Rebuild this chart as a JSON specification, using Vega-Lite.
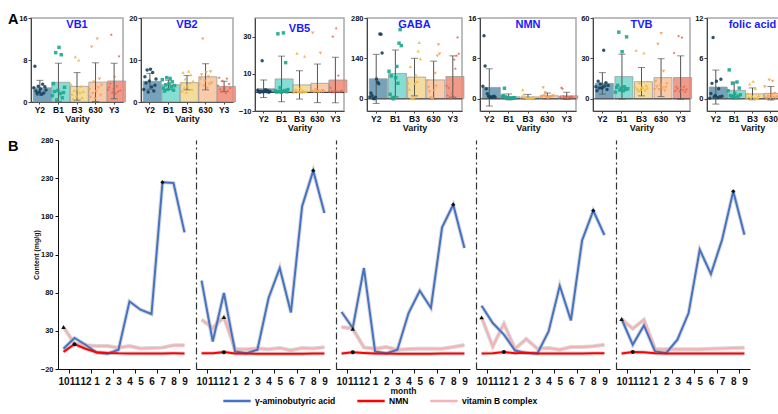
{
  "$schema": "https://vega.github.io/schema/vega-lite/v6.json",
  "background": "white",
  "padding": {"left": 7, "top": 12, "right": 4, "bottom": 0},
  "title": {"text": ["A", "B"], "orient": "left", "anchor": "end", "frame": "bounds", "angle": 0, "align": "right", "baseline": "top", "lineHeight": 127, "offset": -11, "fontSize": 14.5, "color": "#000"},
  "config": {
    "font": "Liberation Sans",
    "view": {"stroke": "#a8a8a8", "strokeWidth": 1.5},
    "axis": {"labelFont": "Liberation Sans", "titleFont": "Liberation Sans", "labelFontWeight": "bold", "titleFontWeight": "bold", "labelColor": "#111", "titleColor": "#111", "domainColor": "#444", "tickColor": "#444", "grid": false, "minExtent": 0},
    "axisY": {"labelFontSize": 7.5, "tickSize": 3, "labelPadding": 1, "minExtent": 0},
    "axisX": {"labelFontSize": 8.5, "labelAngle": 0, "tickSize": 2, "labelPadding": 1, "titleFontSize": 9, "titlePadding": 1, "minExtent": 0},
    "title": {"font": "Liberation Sans", "fontWeight": "bold"},
    "legend": {"labelFont": "Liberation Sans"}
  },
  "datasets": {
    "panels": [{"v": "Y2"}, {"v": "B1"}, {"v": "B3"}, {"v": "630"}, {"v": "Y3"}],
    "lines": [
      {"v": "Y2", "m": "10", "γ-aminobutyric acid": 6.6, "NMN": 2.5, "vitamin B complex": 35, "mk": "vitamin B complex"},
      {"v": "Y2", "m": "11", "γ-aminobutyric acid": 20.6, "NMN": 12.5, "vitamin B complex": 13, "mk": "NMN"},
      {"v": "Y2", "m": "12", "γ-aminobutyric acid": 11.8, "NMN": 6.5, "vitamin B complex": 11},
      {"v": "Y2", "m": "1", "γ-aminobutyric acid": 1.5, "NMN": 2.0, "vitamin B complex": 10},
      {"v": "Y2", "m": "2", "γ-aminobutyric acid": 0, "NMN": 1.0, "vitamin B complex": 10},
      {"v": "Y2", "m": "3", "γ-aminobutyric acid": 5.3, "NMN": 0.5, "vitamin B complex": 8},
      {"v": "Y2", "m": "4", "γ-aminobutyric acid": 68.6, "NMN": 0.4, "vitamin B complex": 10},
      {"v": "Y2", "m": "5", "γ-aminobutyric acid": 57.7, "NMN": 0.3, "vitamin B complex": 7},
      {"v": "Y2", "m": "6", "γ-aminobutyric acid": 52, "NMN": 0.3, "vitamin B complex": 7.5},
      {"v": "Y2", "m": "7", "γ-aminobutyric acid": 224.5, "NMN": 0.4, "vitamin B complex": 8, "mk": "γ-aminobutyric acid"},
      {"v": "Y2", "m": "8", "γ-aminobutyric acid": 223.6, "NMN": 0.5, "vitamin B complex": 11},
      {"v": "Y2", "m": "9", "γ-aminobutyric acid": 159, "NMN": 0.3, "vitamin B complex": 11},
      {"v": "B1", "m": "10", "γ-aminobutyric acid": 95.7, "NMN": 0.5, "vitamin B complex": 44.6},
      {"v": "B1", "m": "11", "γ-aminobutyric acid": 16, "NMN": 0.7, "vitamin B complex": 33.7},
      {"v": "B1", "m": "12", "γ-aminobutyric acid": 79.6, "NMN": 2.1, "vitamin B complex": 48, "mk": "NMN|vitamin B complex"},
      {"v": "B1", "m": "1", "γ-aminobutyric acid": 3, "NMN": 0.4, "vitamin B complex": 6},
      {"v": "B1", "m": "2", "γ-aminobutyric acid": 0.5, "NMN": 0.2, "vitamin B complex": 6},
      {"v": "B1", "m": "3", "γ-aminobutyric acid": 5.3, "NMN": 0.1, "vitamin B complex": 7},
      {"v": "B1", "m": "4", "γ-aminobutyric acid": 73, "NMN": 0.1, "vitamin B complex": 6},
      {"v": "B1", "m": "5", "γ-aminobutyric acid": 112.3, "NMN": 0.1, "vitamin B complex": 7.5},
      {"v": "B1", "m": "6", "γ-aminobutyric acid": 54, "NMN": 0.1, "vitamin B complex": 4.5},
      {"v": "B1", "m": "7", "γ-aminobutyric acid": 193, "NMN": 0.1, "vitamin B complex": 7.5},
      {"v": "B1", "m": "8", "γ-aminobutyric acid": 239.8, "NMN": 0.2, "vitamin B complex": 7, "mk": "γ-aminobutyric acid"},
      {"v": "B1", "m": "9", "γ-aminobutyric acid": 184.4, "NMN": 0.2, "vitamin B complex": 8.5},
      {"v": "B3", "m": "10", "γ-aminobutyric acid": 54.7, "NMN": 0.4, "vitamin B complex": 35},
      {"v": "B3", "m": "11", "γ-aminobutyric acid": 33.7, "NMN": 1.8, "vitamin B complex": 32.8, "mk": "NMN|vitamin B complex"},
      {"v": "B3", "m": "12", "γ-aminobutyric acid": 112.3, "NMN": 0.9, "vitamin B complex": 8.3},
      {"v": "B3", "m": "1", "γ-aminobutyric acid": 3, "NMN": 0.3, "vitamin B complex": 6.6},
      {"v": "B3", "m": "2", "γ-aminobutyric acid": 0.5, "NMN": 0.2, "vitamin B complex": 8.8},
      {"v": "B3", "m": "3", "γ-aminobutyric acid": 5.3, "NMN": 0.1, "vitamin B complex": 5.3},
      {"v": "B3", "m": "4", "γ-aminobutyric acid": 53.3, "NMN": 0.1, "vitamin B complex": 6.2},
      {"v": "B3", "m": "5", "γ-aminobutyric acid": 82.6, "NMN": 0.1, "vitamin B complex": 6.6},
      {"v": "B3", "m": "6", "γ-aminobutyric acid": 60, "NMN": 0.1, "vitamin B complex": 6.6},
      {"v": "B3", "m": "7", "γ-aminobutyric acid": 165.5, "NMN": 0.2, "vitamin B complex": 6.6},
      {"v": "B3", "m": "8", "γ-aminobutyric acid": 195.2, "NMN": 0.2, "vitamin B complex": 8.8, "mk": "γ-aminobutyric acid"},
      {"v": "B3", "m": "9", "γ-aminobutyric acid": 138.5, "NMN": 0.3, "vitamin B complex": 11.4},
      {"v": "630", "m": "10", "γ-aminobutyric acid": 62.9, "NMN": 0.3, "vitamin B complex": 47.6, "mk": "vitamin B complex"},
      {"v": "630", "m": "11", "γ-aminobutyric acid": 40.2, "NMN": 0.5, "vitamin B complex": 9.6},
      {"v": "630", "m": "12", "γ-aminobutyric acid": 25, "NMN": 2.2, "vitamin B complex": 39.3, "mk": "NMN"},
      {"v": "630", "m": "1", "γ-aminobutyric acid": 4.2, "NMN": 0.6, "vitamin B complex": 6.6},
      {"v": "630", "m": "2", "γ-aminobutyric acid": 1.1, "NMN": 1.2, "vitamin B complex": 19.3},
      {"v": "630", "m": "3", "γ-aminobutyric acid": 0.5, "NMN": 0.3, "vitamin B complex": 6.6},
      {"v": "630", "m": "4", "γ-aminobutyric acid": 29.3, "NMN": 0.2, "vitamin B complex": 7.5},
      {"v": "630", "m": "5", "γ-aminobutyric acid": 89, "NMN": 0.2, "vitamin B complex": 5.3},
      {"v": "630", "m": "6", "γ-aminobutyric acid": 43.7, "NMN": 0.3, "vitamin B complex": 8.8},
      {"v": "630", "m": "7", "γ-aminobutyric acid": 148.5, "NMN": 0.4, "vitamin B complex": 8.8},
      {"v": "630", "m": "8", "γ-aminobutyric acid": 187.4, "NMN": 0.5, "vitamin B complex": 9.7, "mk": "γ-aminobutyric acid"},
      {"v": "630", "m": "9", "γ-aminobutyric acid": 155.5, "NMN": 0.6, "vitamin B complex": 11.8},
      {"v": "Y3", "m": "10", "γ-aminobutyric acid": 45.5, "NMN": 0.3, "vitamin B complex": 45.5, "mk": "vitamin B complex"},
      {"v": "Y3", "m": "11", "γ-aminobutyric acid": 11.8, "NMN": 2.2, "vitamin B complex": 32.8, "mk": "NMN"},
      {"v": "Y3", "m": "12", "γ-aminobutyric acid": 37.1, "NMN": 2.0, "vitamin B complex": 44.6},
      {"v": "Y3", "m": "1", "γ-aminobutyric acid": 3, "NMN": 0.5, "vitamin B complex": 6.2},
      {"v": "Y3", "m": "2", "γ-aminobutyric acid": 1, "NMN": 0.3, "vitamin B complex": 6},
      {"v": "Y3", "m": "3", "γ-aminobutyric acid": 18.4, "NMN": 0.2, "vitamin B complex": 6},
      {"v": "Y3", "m": "4", "γ-aminobutyric acid": 53.3, "NMN": 0.2, "vitamin B complex": 6},
      {"v": "Y3", "m": "5", "γ-aminobutyric acid": 136.3, "NMN": 0.2, "vitamin B complex": 6},
      {"v": "Y3", "m": "6", "γ-aminobutyric acid": 104.4, "NMN": 0.3, "vitamin B complex": 6.5},
      {"v": "Y3", "m": "7", "γ-aminobutyric acid": 149.4, "NMN": 0.3, "vitamin B complex": 7},
      {"v": "Y3", "m": "8", "γ-aminobutyric acid": 212.7, "NMN": 0.4, "vitamin B complex": 7.5, "mk": "γ-aminobutyric acid"},
      {"v": "Y3", "m": "9", "γ-aminobutyric acid": 155.9, "NMN": 0.3, "vitamin B complex": 8}
    ],
    "vb": [
      {"v": "Y2", "m": "10", "VB1": 2.7, "VB2": 3.0, "VB5": 1.2, "TVB": 9, "folic acid": 0.1},
      {"v": "Y2", "m": "11", "VB1": 6.8, "VB2": 6.0, "VB5": 0.3, "TVB": 6, "folic acid": 0.8},
      {"v": "Y2", "m": "12", "VB1": 2.1, "VB2": 4.5, "VB5": 0.1, "TVB": 13, "folic acid": 2.3},
      {"v": "Y2", "m": "1", "VB1": 1.6, "VB2": 7.6, "VB5": 0.6, "TVB": 8, "folic acid": 9.1},
      {"v": "Y2", "m": "2", "VB1": 3.0, "VB2": 2.4, "VB5": 17, "TVB": 11, "folic acid": 0.3},
      {"v": "Y2", "m": "3", "VB1": 1.9, "VB2": 5.0, "VB5": 0.2, "TVB": 8, "folic acid": 0.5},
      {"v": "Y2", "m": "4", "VB1": 2.5, "VB2": 7.8, "VB5": 0.8, "TVB": 8.5, "folic acid": 2.6},
      {"v": "Y2", "m": "5", "VB1": 1.5, "VB2": 3.6, "VB5": 1.5, "TVB": 36, "folic acid": 0.2},
      {"v": "Y2", "m": "6", "VB1": 3.4, "VB2": 7.0, "VB5": 0.4, "TVB": 9.5, "folic acid": 1.5},
      {"v": "Y2", "m": "7", "VB1": 1.7, "VB2": 2.6, "VB5": 1.0, "TVB": 12, "folic acid": 0.3},
      {"v": "Y2", "m": "8", "VB1": 2.9, "VB2": 4.0, "VB5": 0.1, "TVB": 7, "folic acid": 2.9},
      {"v": "Y2", "m": "9", "VB1": 2.3, "VB2": 5.5, "VB5": 0.5, "TVB": 10, "folic acid": 0.4},
      {"v": "B1", "m": "10", "VB1": 1.2, "VB2": 5.3, "VB5": 0.8, "TVB": 5, "folic acid": 1.2},
      {"v": "B1", "m": "11", "VB1": 3.5, "VB2": 3.3, "VB5": 0.2, "TVB": 8.5, "folic acid": 4.3},
      {"v": "B1", "m": "12", "VB1": 2.0, "VB2": 2.6, "VB5": 31.5, "TVB": 10, "folic acid": 0.5},
      {"v": "B1", "m": "1", "VB1": 9.4, "VB2": 4.1, "VB5": 0.4, "TVB": 49.5, "folic acid": 0.3},
      {"v": "B1", "m": "2", "VB1": 0.4, "VB2": 5.8, "VB5": 2.5, "TVB": 6.5, "folic acid": 2.3},
      {"v": "B1", "m": "3", "VB1": 2.2, "VB2": 3.0, "VB5": 0.1, "TVB": 8, "folic acid": 0.4},
      {"v": "B1", "m": "4", "VB1": 10.4, "VB2": 4.4, "VB5": 0.5, "TVB": 35, "folic acid": 0.8},
      {"v": "B1", "m": "5", "VB1": 1.6, "VB2": 5.6, "VB5": 32, "TVB": 6, "folic acid": 0.2},
      {"v": "B1", "m": "6", "VB1": 9.0, "VB2": 3.6, "VB5": 1.0, "TVB": 9, "folic acid": 2.5},
      {"v": "B1", "m": "7", "VB1": 0.8, "VB2": 4.8, "VB5": 16, "TVB": 7, "folic acid": 0.4},
      {"v": "B1", "m": "8", "VB1": 1.8, "VB2": 2.8, "VB5": 0.3, "TVB": 46, "folic acid": 1.6},
      {"v": "B1", "m": "9", "VB1": 2.8, "VB2": 3.9, "VB5": 1.5, "TVB": 7.5, "folic acid": 0.6},
      {"v": "B3", "m": "10", "VB1": 3.4, "VB2": 4.2, "VB5": 0.1, "TVB": 9, "folic acid": 0.1},
      {"v": "B3", "m": "11", "VB1": 1.5, "VB2": 2.6, "VB5": 0.8, "TVB": 36, "folic acid": 0.8},
      {"v": "B3", "m": "12", "VB1": 0.6, "VB2": 7.0, "VB5": 1.5, "TVB": 7.5, "folic acid": 0.3},
      {"v": "B3", "m": "1", "VB1": 2.2, "VB2": 3.4, "VB5": 21, "TVB": 6, "folic acid": 2.2},
      {"v": "B3", "m": "2", "VB1": 8.6, "VB2": 5.5, "VB5": 0.3, "TVB": 12, "folic acid": 0.1},
      {"v": "B3", "m": "3", "VB1": 1.2, "VB2": 2.3, "VB5": 0.6, "TVB": 7, "folic acid": 0.4},
      {"v": "B3", "m": "4", "VB1": 2.6, "VB2": 3.8, "VB5": 2.5, "TVB": 8.5, "folic acid": 2.6},
      {"v": "B3", "m": "5", "VB1": 8.0, "VB2": 7.3, "VB5": 0.2, "TVB": 8.5, "folic acid": 0.1},
      {"v": "B3", "m": "6", "VB1": 1.8, "VB2": 4.6, "VB5": 1.0, "TVB": 34, "folic acid": 1.5},
      {"v": "B3", "m": "7", "VB1": 3.0, "VB2": 6.5, "VB5": 0.4, "TVB": 6.5, "folic acid": 0.1},
      {"v": "B3", "m": "8", "VB1": 0.8, "VB2": 3.0, "VB5": 19.5, "TVB": 10, "folic acid": 0.2},
      {"v": "B3", "m": "9", "VB1": 2.0, "VB2": 5.0, "VB5": 0.5, "TVB": 8, "folic acid": 0.5},
      {"v": "630", "m": "10", "VB1": 2.4, "VB2": 4.0, "VB5": 0.8, "TVB": 7, "folic acid": 1.8},
      {"v": "630", "m": "11", "VB1": 0.9, "VB2": 5.5, "VB5": 32, "TVB": 13, "folic acid": 0.1},
      {"v": "630", "m": "12", "VB1": 10.5, "VB2": 6.5, "VB5": 0.4, "TVB": 9, "folic acid": 0.1},
      {"v": "630", "m": "1", "VB1": 1.6, "VB2": 15.0, "VB5": 0.2, "TVB": 40.5, "folic acid": 0.4},
      {"v": "630", "m": "2", "VB1": 3.8, "VB2": 3.8, "VB5": 1.5, "TVB": 7, "folic acid": 2.8},
      {"v": "630", "m": "3", "VB1": 0.6, "VB2": 5.0, "VB5": 0.3, "TVB": 10, "folic acid": 0.1},
      {"v": "630", "m": "4", "VB1": 2.0, "VB2": 7.0, "VB5": 0.6, "TVB": 48.5, "folic acid": 0.5},
      {"v": "630", "m": "5", "VB1": 12.0, "VB2": 3.3, "VB5": 0.1, "TVB": 8, "folic acid": 2.6},
      {"v": "630", "m": "6", "VB1": 2.7, "VB2": 6.0, "VB5": 21, "TVB": 20.5, "folic acid": 0.2},
      {"v": "630", "m": "7", "VB1": 4.4, "VB2": 4.2, "VB5": 0.2, "TVB": 6, "folic acid": 0.8},
      {"v": "630", "m": "8", "VB1": 1.3, "VB2": 7.2, "VB5": 1.0, "TVB": 8.5, "folic acid": 0.1},
      {"v": "630", "m": "9", "VB1": 3.2, "VB2": 4.5, "VB5": 0.5, "TVB": 11, "folic acid": 0.3},
      {"v": "Y3", "m": "10", "VB1": 2.3, "VB2": 3.9, "VB5": 0.3, "TVB": 34, "folic acid": 0.4},
      {"v": "Y3", "m": "11", "VB1": 2.8, "VB2": 5.8, "VB5": 2.5, "TVB": 6, "folic acid": 0.1},
      {"v": "Y3", "m": "12", "VB1": 3.5, "VB2": 3.0, "VB5": 0.6, "TVB": 9, "folic acid": 2.2},
      {"v": "Y3", "m": "1", "VB1": 12.8, "VB2": 2.4, "VB5": 30, "TVB": 7.5, "folic acid": 0.2},
      {"v": "Y3", "m": "2", "VB1": 1.8, "VB2": 5.0, "VB5": 0.1, "TVB": 46.5, "folic acid": 1.2},
      {"v": "Y3", "m": "3", "VB1": 2.5, "VB2": 2.8, "VB5": 0.8, "TVB": 5.5, "folic acid": 0.1},
      {"v": "Y3", "m": "4", "VB1": 4.8, "VB2": 3.6, "VB5": 34.5, "TVB": 8, "folic acid": 0.3},
      {"v": "Y3", "m": "5", "VB1": 1.6, "VB2": 2.1, "VB5": 0.4, "TVB": 45.5, "folic acid": 3.4},
      {"v": "Y3", "m": "6", "VB1": 3.0, "VB2": 5.6, "VB5": 9, "TVB": 6.5, "folic acid": 0.6},
      {"v": "Y3", "m": "7", "VB1": 2.0, "VB2": 2.6, "VB5": 0.2, "TVB": 9, "folic acid": 1.9},
      {"v": "Y3", "m": "8", "VB1": 8.7, "VB2": 4.3, "VB5": 0.5, "TVB": 5, "folic acid": 0.2},
      {"v": "Y3", "m": "9", "VB1": 2.2, "VB2": 3.3, "VB5": 1.0, "TVB": 7, "folic acid": 0.8}
    ]
  },
  "resolve": {"scale": {"color": "independent", "fill": "independent", "shape": "independent"}},
  "columns": 1,
  "align": "none",
  "spacing": 2,
  "concat": [
    {
      "spacing": 0,
      "hconcat": [
        {
          "width": 92, "height": 84,
          "data": {"name": "vb"},
          "title": {"text": "VB1", "offset": -16, "color": "#1a1aff", "fontSize": 11},
          "encoding": {"x": {"field": "v", "type": "nominal", "sort": ["Y2", "B1", "B3", "630", "Y3"], "title": "Varity", "scale": {"domain": ["Y2", "B1", "B3", "630", "Y3"], "paddingInner": 0.28, "paddingOuter": 0.12}}},
          "layer": [
            {"mark": {"type": "bar", "stroke": "#8c8c8c", "strokeWidth": 0.8, "opacity": 0.85},
             "encoding": {"y": {"aggregate": "mean", "field": "VB1", "type": "quantitative", "title": null, "scale": {"domain": [0, 16], "nice": false}, "axis": {"values": [0, 4, 8, 12, 16]}},
                          "color": {"field": "v", "type": "nominal", "scale": {"domain": ["Y2", "B1", "B3", "630", "Y3"], "range": ["#5f93b0", "#72d8cc", "#f3d58e", "#f9c39b", "#ee8a76"]}, "legend": null}}},
            {"mark": {"type": "errorbar", "extent": "stdev", "color": "#555", "thickness": 1, "ticks": {"size": 7, "thickness": 1, "color": "#555"}},
             "encoding": {"y": {"field": "VB1", "type": "quantitative", "title": null}}},
            {"mark": {"type": "point", "filled": true, "size": 12, "opacity": 0.9},
             "encoding": {"y": {"field": "VB1", "type": "quantitative", "title": null},
                          "xOffset": {"field": "m", "type": "nominal", "sort": ["10", "11", "12", "1", "2", "3", "4", "5", "6", "7", "8", "9"]},
                          "fill": {"field": "v", "type": "nominal", "scale": {"domain": ["Y2", "B1", "B3", "630", "Y3"], "range": ["#17435c", "#1ea68e", "#eebb45", "#f5a25a", "#e8624c"]}, "legend": null},
                          "shape": {"field": "v", "type": "nominal", "scale": {"domain": ["Y2", "B1", "B3", "630", "Y3"], "range": ["circle", "square", "triangle-up", "triangle-down", "M0,-1L0.24,-0.33L0.95,-0.31L0.39,0.12L0.59,0.81L0,0.4L-0.59,0.81L-0.39,0.12L-0.95,-0.31L-0.24,-0.33Z"]}, "legend": null}}}
          ]
        },
        {
          "width": 92, "height": 84,
          "data": {"name": "vb"},
          "title": {"text": "VB2", "offset": -16, "color": "#1a1aff", "fontSize": 11},
          "encoding": {"x": {"field": "v", "type": "nominal", "sort": ["Y2", "B1", "B3", "630", "Y3"], "title": "Varity", "scale": {"domain": ["Y2", "B1", "B3", "630", "Y3"], "paddingInner": 0.28, "paddingOuter": 0.12}}},
          "layer": [
            {"mark": {"type": "bar", "stroke": "#8c8c8c", "strokeWidth": 0.8, "opacity": 0.85},
             "encoding": {"y": {"aggregate": "mean", "field": "VB2", "type": "quantitative", "title": null, "scale": {"domain": [0, 20], "nice": false}, "axis": {"values": [0, 5, 10, 15, 20]}},
                          "color": {"field": "v", "type": "nominal", "scale": {"domain": ["Y2", "B1", "B3", "630", "Y3"], "range": ["#5f93b0", "#72d8cc", "#f3d58e", "#f9c39b", "#ee8a76"]}, "legend": null}}},
            {"mark": {"type": "errorbar", "extent": "stdev", "color": "#555", "thickness": 1, "ticks": {"size": 7, "thickness": 1, "color": "#555"}},
             "encoding": {"y": {"field": "VB2", "type": "quantitative", "title": null}}},
            {"mark": {"type": "point", "filled": true, "size": 12, "opacity": 0.9},
             "encoding": {"y": {"field": "VB2", "type": "quantitative", "title": null},
                          "xOffset": {"field": "m", "type": "nominal", "sort": ["10", "11", "12", "1", "2", "3", "4", "5", "6", "7", "8", "9"]},
                          "fill": {"field": "v", "type": "nominal", "scale": {"domain": ["Y2", "B1", "B3", "630", "Y3"], "range": ["#17435c", "#1ea68e", "#eebb45", "#f5a25a", "#e8624c"]}, "legend": null},
                          "shape": {"field": "v", "type": "nominal", "scale": {"domain": ["Y2", "B1", "B3", "630", "Y3"], "range": ["circle", "square", "triangle-up", "triangle-down", "M0,-1L0.24,-0.33L0.95,-0.31L0.39,0.12L0.59,0.81L0,0.4L-0.59,0.81L-0.39,0.12L-0.95,-0.31L-0.24,-0.33Z"]}, "legend": null}}}
          ]
        },
        {
          "width": 89, "height": 93,
          "data": {"name": "vb"},
          "title": {"text": "VB5", "offset": -16, "color": "#1a1aff", "fontSize": 11},
          "encoding": {"x": {"field": "v", "type": "nominal", "sort": ["Y2", "B1", "B3", "630", "Y3"], "title": "Varity", "scale": {"domain": ["Y2", "B1", "B3", "630", "Y3"], "paddingInner": 0.28, "paddingOuter": 0.12}}},
          "layer": [
            {"mark": {"type": "bar", "stroke": "#8c8c8c", "strokeWidth": 0.8, "opacity": 0.85},
             "encoding": {"y": {"aggregate": "mean", "field": "VB5", "type": "quantitative", "title": null, "scale": {"domain": [-10, 40], "nice": false}, "axis": {"values": [-10, 0, 10, 20, 30, 40]}},
                          "color": {"field": "v", "type": "nominal", "scale": {"domain": ["Y2", "B1", "B3", "630", "Y3"], "range": ["#5f93b0", "#72d8cc", "#f3d58e", "#f9c39b", "#ee8a76"]}, "legend": null}}},
            {"data": {"values": [{}]}, "mark": {"type": "rule", "color": "#333", "strokeWidth": 1}, "encoding": {"x": null, "y": {"datum": 0}}},
            {"mark": {"type": "errorbar", "extent": "stdev", "color": "#555", "thickness": 1, "ticks": {"size": 7, "thickness": 1, "color": "#555"}},
             "encoding": {"y": {"field": "VB5", "type": "quantitative", "title": null}}},
            {"mark": {"type": "point", "filled": true, "size": 12, "opacity": 0.9},
             "encoding": {"y": {"field": "VB5", "type": "quantitative", "title": null},
                          "xOffset": {"field": "m", "type": "nominal", "sort": ["10", "11", "12", "1", "2", "3", "4", "5", "6", "7", "8", "9"]},
                          "fill": {"field": "v", "type": "nominal", "scale": {"domain": ["Y2", "B1", "B3", "630", "Y3"], "range": ["#17435c", "#1ea68e", "#eebb45", "#f5a25a", "#e8624c"]}, "legend": null},
                          "shape": {"field": "v", "type": "nominal", "scale": {"domain": ["Y2", "B1", "B3", "630", "Y3"], "range": ["circle", "square", "triangle-up", "triangle-down", "M0,-1L0.24,-0.33L0.95,-0.31L0.39,0.12L0.59,0.81L0,0.4L-0.59,0.81L-0.39,0.12L-0.95,-0.31L-0.24,-0.33Z"]}, "legend": null}}}
          ]
        },
        {
          "width": 95, "height": 93,
          "data": {"name": "lines"},
          "title": {"text": "GABA", "offset": -16, "color": "#1a1aff", "fontSize": 11},
          "encoding": {"x": {"field": "v", "type": "nominal", "sort": ["Y2", "B1", "B3", "630", "Y3"], "title": "Varity", "scale": {"domain": ["Y2", "B1", "B3", "630", "Y3"], "paddingInner": 0.28, "paddingOuter": 0.12}}},
          "layer": [
            {"mark": {"type": "bar", "stroke": "#8c8c8c", "strokeWidth": 0.8, "opacity": 0.85},
             "encoding": {"y": {"aggregate": "mean", "field": "γ-aminobutyric acid", "type": "quantitative", "title": null, "scale": {"domain": [-42, 280], "nice": false}, "axis": {"values": [0, 70, 140, 210, 280]}},
                          "color": {"field": "v", "type": "nominal", "scale": {"domain": ["Y2", "B1", "B3", "630", "Y3"], "range": ["#5f93b0", "#72d8cc", "#f3d58e", "#f9c39b", "#ee8a76"]}, "legend": null}}},
            {"data": {"values": [{}]}, "mark": {"type": "rule", "color": "#333", "strokeWidth": 1}, "encoding": {"x": null, "y": {"datum": 0}}},
            {"mark": {"type": "errorbar", "extent": "stdev", "color": "#555", "thickness": 1, "ticks": {"size": 7, "thickness": 1, "color": "#555"}},
             "encoding": {"y": {"field": "γ-aminobutyric acid", "type": "quantitative", "title": null}}},
            {"mark": {"type": "point", "filled": true, "size": 12, "opacity": 0.9},
             "encoding": {"y": {"field": "γ-aminobutyric acid", "type": "quantitative", "title": null},
                          "xOffset": {"field": "m", "type": "nominal", "sort": ["10", "11", "12", "1", "2", "3", "4", "5", "6", "7", "8", "9"]},
                          "fill": {"field": "v", "type": "nominal", "scale": {"domain": ["Y2", "B1", "B3", "630", "Y3"], "range": ["#17435c", "#1ea68e", "#eebb45", "#f5a25a", "#e8624c"]}, "legend": null},
                          "shape": {"field": "v", "type": "nominal", "scale": {"domain": ["Y2", "B1", "B3", "630", "Y3"], "range": ["circle", "square", "triangle-up", "triangle-down", "M0,-1L0.24,-0.33L0.95,-0.31L0.39,0.12L0.59,0.81L0,0.4L-0.59,0.81L-0.39,0.12L-0.95,-0.31L-0.24,-0.33Z"]}, "legend": null}}}
          ]
        },
        {
          "width": 96, "height": 93,
          "data": {"name": "lines"},
          "title": {"text": "NMN", "offset": -16, "color": "#1a1aff", "fontSize": 11},
          "encoding": {"x": {"field": "v", "type": "nominal", "sort": ["Y2", "B1", "B3", "630", "Y3"], "title": "Varity", "scale": {"domain": ["Y2", "B1", "B3", "630", "Y3"], "paddingInner": 0.28, "paddingOuter": 0.12}}},
          "layer": [
            {"mark": {"type": "bar", "stroke": "#8c8c8c", "strokeWidth": 0.8, "opacity": 0.85},
             "encoding": {"y": {"aggregate": "mean", "field": "NMN", "type": "quantitative", "title": null, "scale": {"domain": [-2.4, 16], "nice": false}, "axis": {"values": [0, 4, 8, 12, 16]}},
                          "color": {"field": "v", "type": "nominal", "scale": {"domain": ["Y2", "B1", "B3", "630", "Y3"], "range": ["#5f93b0", "#72d8cc", "#f3d58e", "#f9c39b", "#ee8a76"]}, "legend": null}}},
            {"data": {"values": [{}]}, "mark": {"type": "rule", "color": "#333", "strokeWidth": 1}, "encoding": {"x": null, "y": {"datum": 0}}},
            {"mark": {"type": "errorbar", "extent": "stdev", "color": "#555", "thickness": 1, "ticks": {"size": 7, "thickness": 1, "color": "#555"}},
             "encoding": {"y": {"field": "NMN", "type": "quantitative", "title": null}}},
            {"mark": {"type": "point", "filled": true, "size": 12, "opacity": 0.9},
             "encoding": {"y": {"field": "NMN", "type": "quantitative", "title": null},
                          "xOffset": {"field": "m", "type": "nominal", "sort": ["10", "11", "12", "1", "2", "3", "4", "5", "6", "7", "8", "9"]},
                          "fill": {"field": "v", "type": "nominal", "scale": {"domain": ["Y2", "B1", "B3", "630", "Y3"], "range": ["#17435c", "#1ea68e", "#eebb45", "#f5a25a", "#e8624c"]}, "legend": null},
                          "shape": {"field": "v", "type": "nominal", "scale": {"domain": ["Y2", "B1", "B3", "630", "Y3"], "range": ["circle", "square", "triangle-up", "triangle-down", "M0,-1L0.24,-0.33L0.95,-0.31L0.39,0.12L0.59,0.81L0,0.4L-0.59,0.81L-0.39,0.12L-0.95,-0.31L-0.24,-0.33Z"]}, "legend": null}}}
          ]
        },
        {
          "width": 97, "height": 93,
          "data": {"name": "vb"},
          "title": {"text": "TVB", "offset": -16, "color": "#1a1aff", "fontSize": 11},
          "encoding": {"x": {"field": "v", "type": "nominal", "sort": ["Y2", "B1", "B3", "630", "Y3"], "title": "Varity", "scale": {"domain": ["Y2", "B1", "B3", "630", "Y3"], "paddingInner": 0.28, "paddingOuter": 0.12}}},
          "layer": [
            {"mark": {"type": "bar", "stroke": "#8c8c8c", "strokeWidth": 0.8, "opacity": 0.85},
             "encoding": {"y": {"aggregate": "mean", "field": "TVB", "type": "quantitative", "title": null, "scale": {"domain": [-9, 60], "nice": false}, "axis": {"values": [0, 15, 30, 45, 60]}},
                          "color": {"field": "v", "type": "nominal", "scale": {"domain": ["Y2", "B1", "B3", "630", "Y3"], "range": ["#5f93b0", "#72d8cc", "#f3d58e", "#f9c39b", "#ee8a76"]}, "legend": null}}},
            {"data": {"values": [{}]}, "mark": {"type": "rule", "color": "#333", "strokeWidth": 1}, "encoding": {"x": null, "y": {"datum": 0}}},
            {"mark": {"type": "errorbar", "extent": "stdev", "color": "#555", "thickness": 1, "ticks": {"size": 7, "thickness": 1, "color": "#555"}},
             "encoding": {"y": {"field": "TVB", "type": "quantitative", "title": null}}},
            {"mark": {"type": "point", "filled": true, "size": 12, "opacity": 0.9},
             "encoding": {"y": {"field": "TVB", "type": "quantitative", "title": null},
                          "xOffset": {"field": "m", "type": "nominal", "sort": ["10", "11", "12", "1", "2", "3", "4", "5", "6", "7", "8", "9"]},
                          "fill": {"field": "v", "type": "nominal", "scale": {"domain": ["Y2", "B1", "B3", "630", "Y3"], "range": ["#17435c", "#1ea68e", "#eebb45", "#f5a25a", "#e8624c"]}, "legend": null},
                          "shape": {"field": "v", "type": "nominal", "scale": {"domain": ["Y2", "B1", "B3", "630", "Y3"], "range": ["circle", "square", "triangle-up", "triangle-down", "M0,-1L0.24,-0.33L0.95,-0.31L0.39,0.12L0.59,0.81L0,0.4L-0.59,0.81L-0.39,0.12L-0.95,-0.31L-0.24,-0.33Z"]}, "legend": null}}}
          ]
        },
        {
          "width": 91, "height": 93,
          "data": {"name": "vb"},
          "title": {"text": "folic acid", "offset": -16, "color": "#1a1aff", "fontSize": 11},
          "encoding": {"x": {"field": "v", "type": "nominal", "sort": ["Y2", "B1", "B3", "630", "Y3"], "title": "Varity", "scale": {"domain": ["Y2", "B1", "B3", "630", "Y3"], "paddingInner": 0.28, "paddingOuter": 0.12}}},
          "layer": [
            {"mark": {"type": "bar", "stroke": "#8c8c8c", "strokeWidth": 0.8, "opacity": 0.85},
             "encoding": {"y": {"aggregate": "mean", "field": "folic acid", "type": "quantitative", "title": null, "scale": {"domain": [-1.8, 12], "nice": false}, "axis": {"values": [0, 3, 6, 9, 12]}},
                          "color": {"field": "v", "type": "nominal", "scale": {"domain": ["Y2", "B1", "B3", "630", "Y3"], "range": ["#5f93b0", "#72d8cc", "#f3d58e", "#f9c39b", "#ee8a76"]}, "legend": null}}},
            {"data": {"values": [{}]}, "mark": {"type": "rule", "color": "#333", "strokeWidth": 1}, "encoding": {"x": null, "y": {"datum": 0}}},
            {"mark": {"type": "errorbar", "extent": "stdev", "color": "#555", "thickness": 1, "ticks": {"size": 7, "thickness": 1, "color": "#555"}},
             "encoding": {"y": {"field": "folic acid", "type": "quantitative", "title": null}}},
            {"mark": {"type": "point", "filled": true, "size": 12, "opacity": 0.9},
             "encoding": {"y": {"field": "folic acid", "type": "quantitative", "title": null},
                          "xOffset": {"field": "m", "type": "nominal", "sort": ["10", "11", "12", "1", "2", "3", "4", "5", "6", "7", "8", "9"]},
                          "fill": {"field": "v", "type": "nominal", "scale": {"domain": ["Y2", "B1", "B3", "630", "Y3"], "range": ["#17435c", "#1ea68e", "#eebb45", "#f5a25a", "#e8624c"]}, "legend": null},
                          "shape": {"field": "v", "type": "nominal", "scale": {"domain": ["Y2", "B1", "B3", "630", "Y3"], "range": ["circle", "square", "triangle-up", "triangle-down", "M0,-1L0.24,-0.33L0.95,-0.31L0.39,0.12L0.59,0.81L0,0.4L-0.59,0.81L-0.39,0.12L-0.95,-0.31L-0.24,-0.33Z"]}, "legend": null}}}
          ]
        }
      ]
    },
    {
      "spacing": 0,
      "hconcat": [
        {
          "width": 1, "height": 229, "view": {"stroke": null},
          "data": {"values": []},
          "mark": "point"
        },
        {
          "width": 132, "height": 229, "view": {"stroke": null},
          "encoding": {
            "x": {"field": "m", "type": "ordinal", "title": null, "scale": {"type": "band", "domain": ["10", "11", "12", "1", "2", "3", "4", "5", "6", "7", "8", "9"], "paddingInner": 0, "paddingOuter": 0},
                  "axis": {"labelFontSize": 10, "labelPadding": 3, "tickSize": 4, "tickBand": "extent", "labelOverlap": false, "domainColor": "#111", "tickColor": "#111", "tickOpacity": {"condition": {"test": "indexof(['10','12','2','4','6','8'], datum.value) >= 0", "value": 1}, "value": 0}}},
            "y": {"field": "content", "type": "quantitative", "title": "Content (mg/g)", "scale": {"domain": [-20, 280], "nice": false, "zero": false},
                  "axis": {"values": [-20, 30, 80, 130, 180, 230, 280], "labelFontSize": 7.5, "tickSize": 3, "labelPadding": 2, "titleFontSize": 7, "titlePadding": 1, "domainColor": "#111", "tickColor": "#111"}}
          },
          "layer": [
            {"data": {"name": "panels"}, "transform": [{"filter": "datum.v === 'Y2'"}], "mark": {"type": "rect", "color": "#dde8f3"},
             "encoding": {"x": {"datum": "1", "bandPosition": 0.2}, "x2": {"datum": "5", "bandPosition": 0.8}, "y": {"datum": 250}, "y2": {"datum": 275}}},
            {"data": {"name": "panels"}, "transform": [{"filter": "datum.v === 'Y2'"}], "mark": {"type": "text", "fontWeight": "bold", "fontSize": 10, "color": "#111"},
             "encoding": {"x": {"datum": "3", "bandPosition": 0.5}, "y": {"datum": 262.5}, "text": {"field": "v"}}},
            {"data": {"name": "lines"},
             "transform": [{"filter": "datum.v === 'Y2'"}, {"fold": ["vitamin B complex", "γ-aminobutyric acid", "NMN"], "as": ["series", "content"]}],
             "layer": [
               {"mark": {"type": "line", "strokeWidth": 4, "color": "#808080", "opacity": 0.3}, "encoding": {"x": {"field": "m", "type": "ordinal", "bandPosition": 0.5}, "detail": {"field": "series"}}},
               {"mark": {"type": "line", "strokeWidth": 2}, "encoding": {"x": {"field": "m", "type": "ordinal", "bandPosition": 0.5},
                 "color": {"field": "series", "type": "nominal", "scale": {"domain": ["γ-aminobutyric acid", "NMN", "vitamin B complex"], "range": ["#4472c4", "#ff0000", "#f5b1b3"]},
                           "legend": {"orient": "none", "legendX": 191, "legendY": 246, "direction": "horizontal", "title": null, "symbolType": "stroke", "symbolStrokeWidth": 2.5, "symbolSize": 750, "labelFontSize": 8.5, "labelFontWeight": "bold", "labelOffset": 3, "columnPadding": 16}}}},
               {"transform": [{"filter": "datum.series === 'γ-aminobutyric acid' && indexof(datum.mk || '', datum.series) >= 0"}], "mark": {"type": "point", "shape": "diamond", "filled": true, "color": "#111", "size": 18, "opacity": 1},
                "encoding": {"x": {"field": "m", "type": "ordinal", "bandPosition": 0.5}}},
               {"transform": [{"filter": "datum.series === 'NMN' && indexof(datum.mk || '', datum.series) >= 0"}], "mark": {"type": "point", "shape": "circle", "filled": true, "color": "#111", "size": 16, "opacity": 1},
                "encoding": {"x": {"field": "m", "type": "ordinal", "bandPosition": 0.5}}},
               {"transform": [{"filter": "datum.series === 'vitamin B complex' && indexof(datum.mk || '', datum.series) >= 0"}], "mark": {"type": "point", "shape": "triangle-up", "filled": true, "color": "#111", "size": 20, "opacity": 1},
                "encoding": {"x": {"field": "m", "type": "ordinal", "bandPosition": 0.5}}}
             ]}
          ]
        },
        {
          "width": 134, "height": 229, "view": {"stroke": null},
          "encoding": {
            "x": {"field": "m", "type": "ordinal", "title": null, "scale": {"type": "band", "domain": ["10", "11", "12", "1", "2", "3", "4", "5", "6", "7", "8", "9"], "paddingInner": 0, "paddingOuter": 0},
                  "axis": {"labelFontSize": 10, "labelPadding": 3, "tickSize": 4, "tickBand": "extent", "labelOverlap": false, "domainColor": "#111", "tickColor": "#111", "tickOpacity": {"condition": {"test": "indexof(['10','12','2','4','6','8'], datum.value) >= 0", "value": 1}, "value": 0}}},
            "y": {"field": "content", "type": "quantitative", "title": null, "scale": {"domain": [-20, 280], "nice": false, "zero": false},
                  "axis": {"labels": false, "ticks": false, "domainDash": [7, 3, 2, 3], "domainColor": "#333", "domainWidth": 1.2}}
          },
          "layer": [
            {"data": {"name": "panels"}, "transform": [{"filter": "datum.v === 'B1'"}], "mark": {"type": "rect", "color": "#dde8f3"},
             "encoding": {"x": {"datum": "1", "bandPosition": 0.2}, "x2": {"datum": "5", "bandPosition": 0.8}, "y": {"datum": 250}, "y2": {"datum": 275}}},
            {"data": {"name": "panels"}, "transform": [{"filter": "datum.v === 'B1'"}], "mark": {"type": "text", "fontWeight": "bold", "fontSize": 10, "color": "#111"},
             "encoding": {"x": {"datum": "3", "bandPosition": 0.5}, "y": {"datum": 262.5}, "text": {"field": "v"}}},
            {"data": {"name": "lines"},
             "transform": [{"filter": "datum.v === 'B1'"}, {"fold": ["vitamin B complex", "γ-aminobutyric acid", "NMN"], "as": ["series", "content"]}],
             "layer": [
               {"mark": {"type": "line", "strokeWidth": 4, "color": "#808080", "opacity": 0.3}, "encoding": {"x": {"field": "m", "type": "ordinal", "bandPosition": 0.5}, "detail": {"field": "series"}}},
               {"mark": {"type": "line", "strokeWidth": 2}, "encoding": {"x": {"field": "m", "type": "ordinal", "bandPosition": 0.5},
                 "color": {"field": "series", "type": "nominal", "scale": {"domain": ["γ-aminobutyric acid", "NMN", "vitamin B complex"], "range": ["#4472c4", "#ff0000", "#f5b1b3"]}}}},
               {"transform": [{"filter": "datum.series === 'γ-aminobutyric acid' && indexof(datum.mk || '', datum.series) >= 0"}], "mark": {"type": "point", "shape": "diamond", "filled": true, "color": "#111", "size": 18, "opacity": 1},
                "encoding": {"x": {"field": "m", "type": "ordinal", "bandPosition": 0.5}}},
               {"transform": [{"filter": "datum.series === 'NMN' && indexof(datum.mk || '', datum.series) >= 0"}], "mark": {"type": "point", "shape": "circle", "filled": true, "color": "#111", "size": 16, "opacity": 1},
                "encoding": {"x": {"field": "m", "type": "ordinal", "bandPosition": 0.5}}},
               {"transform": [{"filter": "datum.series === 'vitamin B complex' && indexof(datum.mk || '', datum.series) >= 0"}], "mark": {"type": "point", "shape": "triangle-up", "filled": true, "color": "#111", "size": 20, "opacity": 1},
                "encoding": {"x": {"field": "m", "type": "ordinal", "bandPosition": 0.5}}}
             ]}
          ]
        },
        {
          "width": 134, "height": 229, "view": {"stroke": null},
          "encoding": {
            "x": {"field": "m", "type": "ordinal", "title": "month", "scale": {"type": "band", "domain": ["10", "11", "12", "1", "2", "3", "4", "5", "6", "7", "8", "9"], "paddingInner": 0, "paddingOuter": 0},
                  "axis": {"labelFontSize": 10, "labelPadding": 3, "tickSize": 4, "tickBand": "extent", "labelOverlap": false, "titleFontSize": 8.5, "titlePadding": 0, "domainColor": "#111", "tickColor": "#111", "tickOpacity": {"condition": {"test": "indexof(['10','12','2','4','6','8'], datum.value) >= 0", "value": 1}, "value": 0}}},
            "y": {"field": "content", "type": "quantitative", "title": null, "scale": {"domain": [-20, 280], "nice": false, "zero": false},
                  "axis": {"labels": false, "ticks": false, "domainDash": [7, 3, 2, 3], "domainColor": "#333", "domainWidth": 1.2}}
          },
          "layer": [
            {"data": {"name": "panels"}, "transform": [{"filter": "datum.v === 'B3'"}], "mark": {"type": "rect", "color": "#dde8f3"},
             "encoding": {"x": {"datum": "1", "bandPosition": 0.2}, "x2": {"datum": "5", "bandPosition": 0.8}, "y": {"datum": 250}, "y2": {"datum": 275}}},
            {"data": {"name": "panels"}, "transform": [{"filter": "datum.v === 'B3'"}], "mark": {"type": "text", "fontWeight": "bold", "fontSize": 10, "color": "#111"},
             "encoding": {"x": {"datum": "3", "bandPosition": 0.5}, "y": {"datum": 262.5}, "text": {"field": "v"}}},
            {"data": {"name": "lines"},
             "transform": [{"filter": "datum.v === 'B3'"}, {"fold": ["vitamin B complex", "γ-aminobutyric acid", "NMN"], "as": ["series", "content"]}],
             "layer": [
               {"mark": {"type": "line", "strokeWidth": 4, "color": "#808080", "opacity": 0.3}, "encoding": {"x": {"field": "m", "type": "ordinal", "bandPosition": 0.5}, "detail": {"field": "series"}}},
               {"mark": {"type": "line", "strokeWidth": 2}, "encoding": {"x": {"field": "m", "type": "ordinal", "bandPosition": 0.5},
                 "color": {"field": "series", "type": "nominal", "scale": {"domain": ["γ-aminobutyric acid", "NMN", "vitamin B complex"], "range": ["#4472c4", "#ff0000", "#f5b1b3"]}}}},
               {"transform": [{"filter": "datum.series === 'γ-aminobutyric acid' && indexof(datum.mk || '', datum.series) >= 0"}], "mark": {"type": "point", "shape": "diamond", "filled": true, "color": "#111", "size": 18, "opacity": 1},
                "encoding": {"x": {"field": "m", "type": "ordinal", "bandPosition": 0.5}}},
               {"transform": [{"filter": "datum.series === 'NMN' && indexof(datum.mk || '', datum.series) >= 0"}], "mark": {"type": "point", "shape": "circle", "filled": true, "color": "#111", "size": 16, "opacity": 1},
                "encoding": {"x": {"field": "m", "type": "ordinal", "bandPosition": 0.5}}},
               {"transform": [{"filter": "datum.series === 'vitamin B complex' && indexof(datum.mk || '', datum.series) >= 0"}], "mark": {"type": "point", "shape": "triangle-up", "filled": true, "color": "#111", "size": 20, "opacity": 1},
                "encoding": {"x": {"field": "m", "type": "ordinal", "bandPosition": 0.5}}}
             ]}
          ]
        },
        {
          "width": 134, "height": 229, "view": {"stroke": null},
          "encoding": {
            "x": {"field": "m", "type": "ordinal", "title": null, "scale": {"type": "band", "domain": ["10", "11", "12", "1", "2", "3", "4", "5", "6", "7", "8", "9"], "paddingInner": 0, "paddingOuter": 0},
                  "axis": {"labelFontSize": 10, "labelPadding": 3, "tickSize": 4, "tickBand": "extent", "labelOverlap": false, "domainColor": "#111", "tickColor": "#111", "tickOpacity": {"condition": {"test": "indexof(['10','12','2','4','6','8'], datum.value) >= 0", "value": 1}, "value": 0}}},
            "y": {"field": "content", "type": "quantitative", "title": null, "scale": {"domain": [-20, 280], "nice": false, "zero": false},
                  "axis": {"labels": false, "ticks": false, "domainDash": [7, 3, 2, 3], "domainColor": "#333", "domainWidth": 1.2}}
          },
          "layer": [
            {"data": {"name": "panels"}, "transform": [{"filter": "datum.v === '630'"}], "mark": {"type": "rect", "color": "#dde8f3"},
             "encoding": {"x": {"datum": "1", "bandPosition": 0.3}, "x2": {"datum": "5", "bandPosition": 0.9}, "y": {"datum": 250}, "y2": {"datum": 275}}},
            {"data": {"name": "panels"}, "transform": [{"filter": "datum.v === '630'"}], "mark": {"type": "text", "fontWeight": "bold", "fontSize": 10, "color": "#111"},
             "encoding": {"x": {"datum": "3", "bandPosition": 0.6}, "y": {"datum": 262.5}, "text": {"field": "v"}}},
            {"data": {"name": "lines"},
             "transform": [{"filter": "datum.v === '630'"}, {"fold": ["vitamin B complex", "γ-aminobutyric acid", "NMN"], "as": ["series", "content"]}],
             "layer": [
               {"mark": {"type": "line", "strokeWidth": 4, "color": "#808080", "opacity": 0.3}, "encoding": {"x": {"field": "m", "type": "ordinal", "bandPosition": 0.5}, "detail": {"field": "series"}}},
               {"mark": {"type": "line", "strokeWidth": 2}, "encoding": {"x": {"field": "m", "type": "ordinal", "bandPosition": 0.5},
                 "color": {"field": "series", "type": "nominal", "scale": {"domain": ["γ-aminobutyric acid", "NMN", "vitamin B complex"], "range": ["#4472c4", "#ff0000", "#f5b1b3"]}}}},
               {"transform": [{"filter": "datum.series === 'γ-aminobutyric acid' && indexof(datum.mk || '', datum.series) >= 0"}], "mark": {"type": "point", "shape": "diamond", "filled": true, "color": "#111", "size": 18, "opacity": 1},
                "encoding": {"x": {"field": "m", "type": "ordinal", "bandPosition": 0.5}}},
               {"transform": [{"filter": "datum.series === 'NMN' && indexof(datum.mk || '', datum.series) >= 0"}], "mark": {"type": "point", "shape": "circle", "filled": true, "color": "#111", "size": 16, "opacity": 1},
                "encoding": {"x": {"field": "m", "type": "ordinal", "bandPosition": 0.5}}},
               {"transform": [{"filter": "datum.series === 'vitamin B complex' && indexof(datum.mk || '', datum.series) >= 0"}], "mark": {"type": "point", "shape": "triangle-up", "filled": true, "color": "#111", "size": 20, "opacity": 1},
                "encoding": {"x": {"field": "m", "type": "ordinal", "bandPosition": 0.5}}}
             ]}
          ]
        },
        {
          "width": 134, "height": 229, "view": {"stroke": null},
          "encoding": {
            "x": {"field": "m", "type": "ordinal", "title": null, "scale": {"type": "band", "domain": ["10", "11", "12", "1", "2", "3", "4", "5", "6", "7", "8", "9"], "paddingInner": 0, "paddingOuter": 0},
                  "axis": {"labelFontSize": 10, "labelPadding": 3, "tickSize": 4, "tickBand": "extent", "labelOverlap": false, "domainColor": "#111", "tickColor": "#111", "tickOpacity": {"condition": {"test": "indexof(['10','12','2','4','6','8'], datum.value) >= 0", "value": 1}, "value": 0}}},
            "y": {"field": "content", "type": "quantitative", "title": null, "scale": {"domain": [-20, 280], "nice": false, "zero": false},
                  "axis": {"labels": false, "ticks": false, "domainDash": [7, 3, 2, 3], "domainColor": "#333", "domainWidth": 1.2}}
          },
          "layer": [
            {"data": {"name": "panels"}, "transform": [{"filter": "datum.v === 'Y3'"}], "mark": {"type": "rect", "color": "#dde8f3"},
             "encoding": {"x": {"datum": "1", "bandPosition": 0.4}, "x2": {"datum": "6", "bandPosition": 0.05}, "y": {"datum": 250}, "y2": {"datum": 275}}},
            {"data": {"name": "panels"}, "transform": [{"filter": "datum.v === 'Y3'"}], "mark": {"type": "text", "fontWeight": "bold", "fontSize": 10, "color": "#111"},
             "encoding": {"x": {"datum": "3", "bandPosition": 0.7}, "y": {"datum": 262.5}, "text": {"field": "v"}}},
            {"data": {"name": "lines"},
             "transform": [{"filter": "datum.v === 'Y3'"}, {"fold": ["vitamin B complex", "γ-aminobutyric acid", "NMN"], "as": ["series", "content"]}],
             "layer": [
               {"mark": {"type": "line", "strokeWidth": 4, "color": "#808080", "opacity": 0.3}, "encoding": {"x": {"field": "m", "type": "ordinal", "bandPosition": 0.5}, "detail": {"field": "series"}}},
               {"mark": {"type": "line", "strokeWidth": 2}, "encoding": {"x": {"field": "m", "type": "ordinal", "bandPosition": 0.5},
                 "color": {"field": "series", "type": "nominal", "scale": {"domain": ["γ-aminobutyric acid", "NMN", "vitamin B complex"], "range": ["#4472c4", "#ff0000", "#f5b1b3"]}}}},
               {"transform": [{"filter": "datum.series === 'γ-aminobutyric acid' && indexof(datum.mk || '', datum.series) >= 0"}], "mark": {"type": "point", "shape": "diamond", "filled": true, "color": "#111", "size": 18, "opacity": 1},
                "encoding": {"x": {"field": "m", "type": "ordinal", "bandPosition": 0.5}}},
               {"transform": [{"filter": "datum.series === 'NMN' && indexof(datum.mk || '', datum.series) >= 0"}], "mark": {"type": "point", "shape": "circle", "filled": true, "color": "#111", "size": 16, "opacity": 1},
                "encoding": {"x": {"field": "m", "type": "ordinal", "bandPosition": 0.5}}},
               {"transform": [{"filter": "datum.series === 'vitamin B complex' && indexof(datum.mk || '', datum.series) >= 0"}], "mark": {"type": "point", "shape": "triangle-up", "filled": true, "color": "#111", "size": 20, "opacity": 1},
                "encoding": {"x": {"field": "m", "type": "ordinal", "bandPosition": 0.5}}}
             ]}
          ]
        }
      ]
    }
  ]
}
